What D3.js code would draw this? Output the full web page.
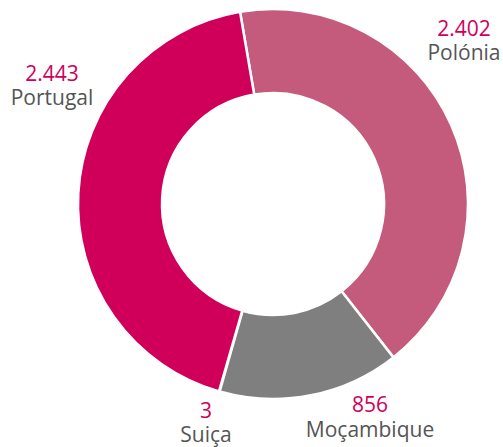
<!DOCTYPE html>
<html>
<head>
<meta charset="utf-8">
<script src="https://cdn.jsdelivr.net/npm/d3@7"></script>
<style>
  html, body { margin: 0; padding: 0; background: #fff; }
  svg text { font-family: "Open Sans", "Noto Sans", sans-serif; }
</style>
</head>
<body>
<div id="chart"></div>
<script>
;(function() {
	"use strict";

	// data, in drawing order (clockwise from the top)
	var countries = ["Polónia", "Moçambique", "Suiça", "Portugal"];
	var values = [2402, 856, 3, 2443];
	var valueLabels = ["2.402", "856", "3", "2.443"];
	var colors = ["#C45B7D", "#7F7F7F", "#E8955A", "#D0005A"];

	var width = 503, height = 447,
		cx = 273, cy = 204,
		outerR = 195, innerR = 111,
		startAngle = -0.17;

	// where each label block sits (centre x, baseline of value, gap to name)
	var labelPos = {
		"Polónia": [464, 36, 24],
		"Moçambique": [370, 412, 25],
		"Suiça": [206, 418, 24],
		"Portugal": [52, 81, 24]
	};

	var svg = d3.select("#chart").append("svg")
		.attr("width", width)
		.attr("height", height);

	var pie = d3.pie()
		.sort(null)
		.value(function(d) { return d; })
		.startAngle(startAngle)
		.endAngle(startAngle + 2 * Math.PI);

	var arc = d3.arc().innerRadius(innerR).outerRadius(outerR);

	var g = svg.append("g").attr("transform", "translate(" + cx + "," + cy + ")");

	g.selectAll("path.slice")
		.data(pie(values))
		.enter().append("path")
		.attr("class", "slice")
		.attr("d", arc)
		.attr("fill", function(d, i) { return colors[i]; })
		.attr("stroke", "#fff")
		.attr("stroke-width", function(d) { return d.value < 50 ? 0 : 2.5; });

	var labels = svg.selectAll("g.label")
		.data(countries)
		.enter().append("g")
		.attr("class", "label")
		.attr("transform", function(d) {
			return "translate(" + labelPos[d][0] + "," + labelPos[d][1] + ")";
		});

	labels.append("text")
		.attr("text-anchor", "middle")
		.attr("fill", "#D0005A")
		.attr("font-size", 21)
		.text(function(d, i) { return valueLabels[i]; });

	labels.append("text")
		.attr("text-anchor", "middle")
		.attr("y", function(d) { return labelPos[d][2]; })
		.attr("fill", "#555")
		.attr("font-size", 21)
		.text(function(d) { return d; });
})();
</script>
</body>
</html>
